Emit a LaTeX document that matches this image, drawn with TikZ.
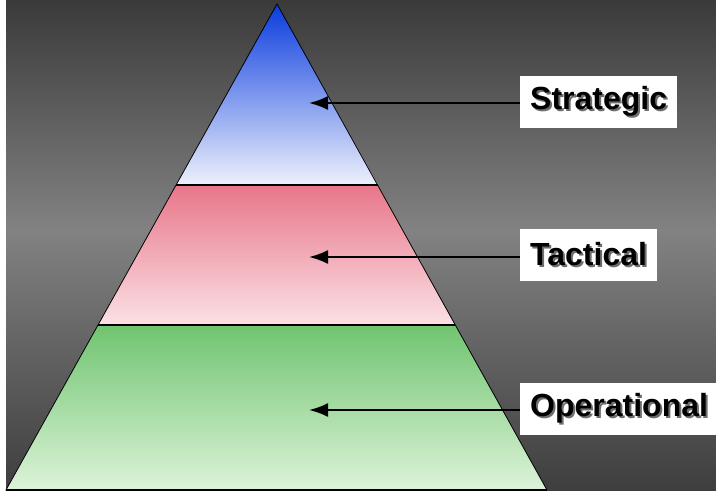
\documentclass[tikz,border=0pt]{standalone}
\usepackage{fontspec}
\setmainfont{Liberation Sans}
\usetikzlibrary{arrows.meta,shapes}

\definecolor{bgtop}{HTML}{3A3A3A}
\definecolor{bgmid}{HTML}{828282}
\definecolor{bgbot}{HTML}{3E3E3E}
\definecolor{stratA}{HTML}{0A3CDE}
\definecolor{stratB}{HTML}{EEF1FC}
\definecolor{tactA}{HTML}{E8768A}
\definecolor{tactB}{HTML}{FBE1E5}
\definecolor{operA}{HTML}{70C470}
\definecolor{operB}{HTML}{DDF3D9}
\definecolor{txtshadow}{HTML}{6E6E6E}

\newcommand\shadowed[1]{\makebox[0pt][l]{\hspace{2pt}\raisebox{-2pt}{\color{txtshadow}#1}}#1}

\tikzset{
  levelbox/.style={fill=white,anchor=west,minimum height=52pt,inner xsep=10pt,inner ysep=0pt,
    font=\fontsize{32}{36}\selectfont\bfseries},
  pointer/.style={-{Latex[length=19pt,width=14pt]},line width=2pt}
}

\begin{document}
\begin{tikzpicture}[x=1pt,y=-1pt]
\useasboundingbox (0,0) rectangle (716,492);
\fill[white] (0,0) rectangle (716,492);
% background, light band in the middle
\shade[top color=bgtop,bottom color=bgmid] (6,0) rectangle (716,230);
\shade[top color=bgmid,bottom color=bgbot] (6,230) rectangle (716,490);

% pyramid corners
\coordinate (apex) at (277,4);
\coordinate (bl) at (6,490);
\coordinate (br) at (547,490);
\coordinate (s1) at (176,185);
\coordinate (s2) at (378,185);
\coordinate (t1) at (98,325);
\coordinate (t2) at (455,325);

\shade[top color=stratA,bottom color=stratB] (apex) -- (s2) -- (s1) -- cycle;
\shade[top color=tactA,bottom color=tactB] (s1) -- (s2) -- (t2) -- (t1) -- cycle;
\shade[top color=operA,bottom color=operB] (t1) -- (t2) -- (br) -- (bl) -- cycle;
\draw[line width=0.8pt] (apex) -- (br) -- (bl) -- cycle;
\draw[line width=1.2pt] (s1) -- (s2) (t1) -- (t2);
\draw[line width=2pt] (bl) -- (br);

% labels
\node[levelbox] (strategic) at (520,102) {\shadowed{Strategic}};
\node[levelbox] (tactical) at (520,255) {\shadowed{Tactical}};
\node[levelbox] (operational) at (520,409) {\shadowed{Operational}};

\coordinate (ps) at (309,103);
\coordinate (pt) at (309,257);
\coordinate (po) at (309,410);
\draw[pointer] (strategic.west |- ps) -- (ps);
\draw[pointer] (tactical.west |- pt) -- (pt);
\draw[pointer] (operational.west |- po) -- (po);
\end{tikzpicture}
\end{document}
